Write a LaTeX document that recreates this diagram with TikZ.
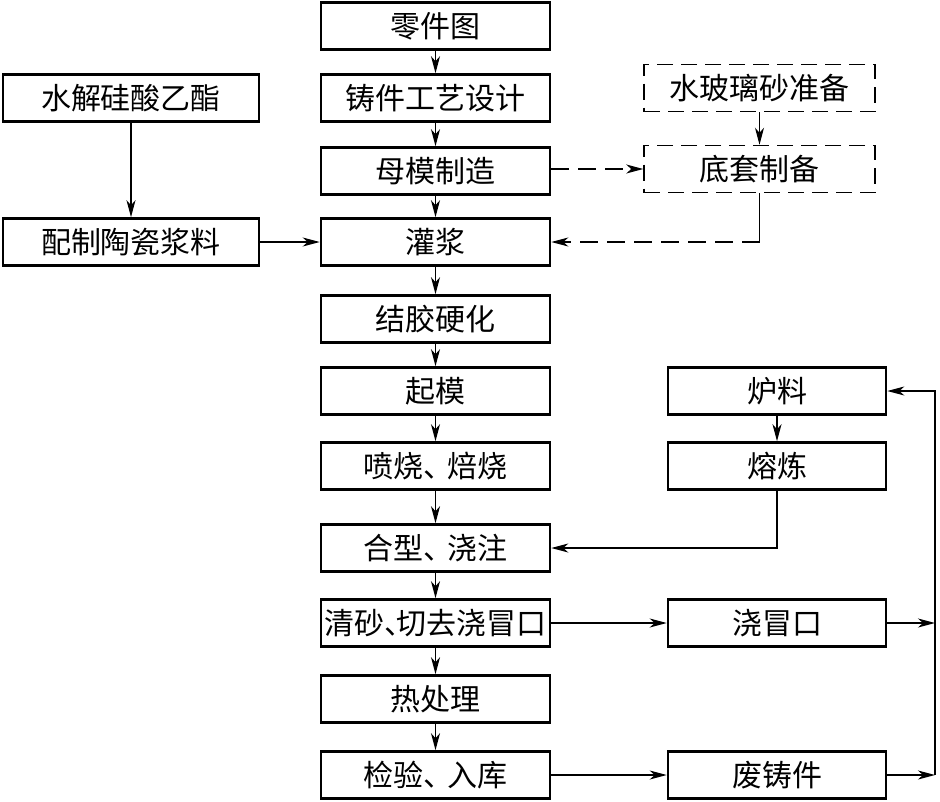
\documentclass[tikz,border=0pt]{standalone}
\usepackage{fontspec}
\setmainfont{Noto Sans CJK SC}
\usetikzlibrary{arrows.meta,calc}
\tikzset{
  box/.style={draw,line width=2.6pt,rectangle,minimum height=47pt,inner sep=0pt,font=\fontsize{30}{32}\selectfont},
  cbox/.style={box,minimum width=229pt},
  lbox/.style={box,minimum width=256pt},
  rbox/.style={box,minimum width=218pt},
  dbox/.style={box,line width=1.5pt,minimum width=231pt,dash pattern=on 16pt off 8pt},
  conn/.style={line width=1.3pt,-{Stealth[length=17pt,width=9pt,inset=5pt]}},
  plain/.style={line width=1.3pt},
  dconn/.style={conn,dash pattern=on 18pt off 9pt},
}
\begin{document}
\begin{tikzpicture}[x=1pt,y=-1pt]
\useasboundingbox (0,0) rectangle (940,801);
% central column
\node[cbox] (a1) at (435.5,26) {零件图};
\node[cbox] (a2) at (435.5,98) {铸件工艺设计};
\node[cbox] (a3) at (435.5,171) {母模制造};
\node[cbox] (a4) at (435.5,242) {灌浆};
\node[cbox] (a5) at (435.5,319) {结胶硬化};
\node[cbox] (a6) at (435.5,391) {起模};
\node[cbox] (a7) at (435.5,466) {喷烧\makebox[0.8em][l]{、}焙烧};
\node[cbox] (a8) at (435.5,548) {合型\makebox[0.8em][l]{、}浇注};
\node[cbox] (a9) at (435.5,623) {清砂\makebox[0.42em][l]{、}切去浇冒口};
\node[cbox] (a10) at (435.5,699) {热处理};
\node[cbox] (a11) at (435.5,775) {检验\makebox[0.8em][l]{、}入库};
% left column
\node[lbox] (l1) at (131,98) {水解硅酸乙酯};
\node[lbox] (l2) at (131,242) {配制陶瓷浆料};
% dashed column
\node[dbox] (d1) at (759.5,88) {水玻璃砂准备};
\node[dbox] (d2) at (759.5,169) {底套制备};
% right column
\node[rbox] (r1) at (777,391) {炉料};
\node[rbox] (r2) at (777,466) {熔炼};
\node[rbox] (r3) at (777,623) {浇冒口};
\node[rbox] (r4) at (777,775) {废铸件};
\coordinate (bus) at (935,391);
% central arrows
\foreach \i/\j in {a1/a2,a2/a3,a3/a4,a4/a5,a5/a6,a6/a7,a7/a8,a8/a9,a9/a10,a10/a11}
  \draw[conn] (\i.south) -- (\j.north);
\draw[conn] (l1.south) -- (l2.north);
\draw[conn] (l2.east) -- (a4.west);
\draw[conn] (d1.south) -- (d2.north);
\draw[dconn] (a3.east |- d2.west) -- (d2.west);
\draw[plain] (d2.south) -- (d2.south |- a4.east) coordinate (dk);
\draw[dconn] (dk) -- (a4.east);
\draw[conn] (r1.south) -- (r2.north);
\draw[conn] (r2.south) |- (a8.east);
\draw[conn] (a9.east) -- (r3.west);
\draw[conn] (a11.east) -- (r4.west);
\draw[conn] (r3.east) -- (r3.east -| bus);
\draw[conn] (r4.east) -- (r4.east -| bus);
\draw[conn] (r4.east -| bus) -- (bus) -- (r1.east);
\end{tikzpicture}
\end{document}
